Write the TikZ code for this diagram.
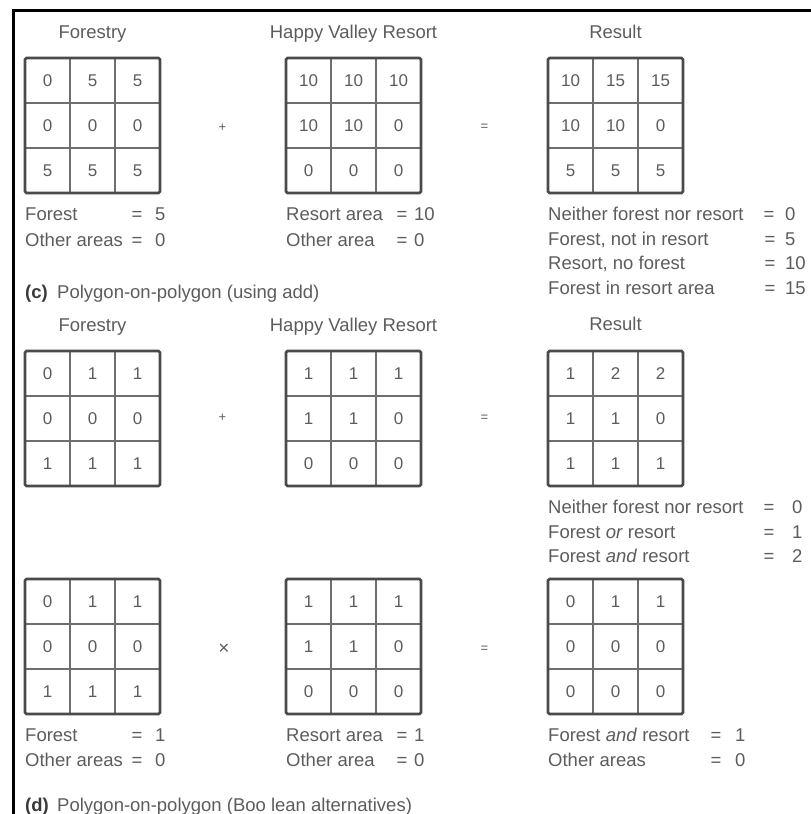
\documentclass[tikz,border=0pt]{standalone}
\usepackage{fontspec}
\setmainfont{Liberation Sans}
\definecolor{txt}{HTML}{5C5C5C}
\definecolor{capc}{HTML}{3A3A3A}
\definecolor{gridout}{HTML}{4A4A4A}
\definecolor{gridin}{HTML}{6E6E6E}
\tikzset{
  outer/.style={draw=gridout, line width=2.6pt, rounded corners=1.5pt},
  innerline/.style={draw=gridin, line width=1.4pt},
  cell/.style={anchor=center, inner sep=0pt, text=txt, text height=12.2pt, text depth=0pt, font=\fontsize{17}{19}\selectfont},
  lbl/.style={anchor=west, inner sep=0pt, text=txt, text height=13pt, text depth=0pt, font=\fontsize{18.5}{20}\selectfont},
  ttl/.style={anchor=center, inner sep=0pt, text=txt, text height=13pt, text depth=0pt, font=\fontsize{18.5}{20}\selectfont},
  eqs/.style={anchor=center, inner sep=0pt, text=txt, text height=13pt, text depth=0pt, font=\fontsize{18.5}{20}\selectfont},
  opsign/.style={anchor=center, inner sep=0pt, text=txt, font=\fontsize{13}{15}\selectfont},
  frameline/.style={draw=black, line width=2.4pt},
}
\newcommand\mygrid[4]{%
  \foreach \k in {1,2}{
    \draw[innerline] (#2+45*\k,#3) -- (#2+45*\k,#3+135);
    \draw[innerline] (#2,#3+45*\k) -- (#2+135,#3+45*\k);
  }
  \draw[outer] (#2,#3) rectangle (#2+135,#3+135);
  \foreach \v [count=\i from 0] in {#4}{
    \pgfmathtruncatemacro\rr{\i/3}
    \pgfmathtruncatemacro\cc{\i-3*\rr}
    \node[cell] (#1-\i) at (#2+22.5+45*\cc, #3+22.5+45*\rr) {\v};
  }
}
% name, text x, y, text, eq x, value x, value
\newcommand\eqrow[7]{%
  \node[lbl] (#1-t) at (#2,#3) {#4};
  \node[eqs] (#1-e) at (#5,#3) {=};
  \node[lbl] (#1-v) at (#6,#3) {#7};
}
\begin{document}
\begin{tikzpicture}[x=1pt,y=-1pt]
\useasboundingbox (0,0) rectangle (811,814);
% frame
\coordinate (fTL) at (13.5,10.5);
\coordinate (fTR) at (811,10.5);
\coordinate (fBL) at (13.5,814);
\draw[frameline] (fTR) -- (fTL) -- (fBL);

% ---------- panel (c) ----------
\node[ttl] (t1) at (92.5,32) {Forestry};
\node[ttl] (t2) at (353.5,32) {Happy Valley Resort};
\node[ttl] (t3) at (615.5,32) {Result};
\mygrid{ca}{25}{58}{0,5,5,0,0,0,5,5,5}
\mygrid{cb}{286}{58}{10,10,10,10,10,0,0,0,0}
\mygrid{cc}{548}{58}{10,15,15,10,10,0,5,5,5}
\node[opsign] (op1) at (222.5,127.5) {+};
\node[opsign] (op2) at (484.5,127) {=};

\eqrow{ca1}{25}{214}{Forest}{137}{155}{5}
\eqrow{ca2}{25}{240}{Other areas}{137}{155}{0}
\eqrow{cb1}{286}{214}{Resort area}{402}{414}{10}
\eqrow{cb2}{286}{240}{Other area}{402}{414}{0}
\eqrow{cc1}{548}{214}{Neither forest nor resort}{769}{785}{0}
\eqrow{cc2}{548}{239}{Forest, not in resort}{770}{785}{5}
\eqrow{cc3}{548}{263}{Resort, no forest}{770}{785}{10}
\eqrow{cc4}{548}{288}{Forest in resort area}{770}{785}{15}
\node[lbl, text=capc, font=\fontsize{18.5}{20}\selectfont\bfseries] (capc1) at (25,292) {(c)};
\node[lbl] (capc2) at (57,292) {Polygon-on-polygon (using add)};

% ---------- panel (d), upper ----------
\node[ttl] (t4) at (92.5,325) {Forestry};
\node[ttl] (t5) at (353.5,325) {Happy Valley Resort};
\node[ttl] (t6) at (615.5,324) {Result};
\mygrid{da}{25}{351}{0,1,1,0,0,0,1,1,1}
\mygrid{db}{286}{351}{1,1,1,1,1,0,0,0,0}
\mygrid{dc}{548}{351}{1,2,2,1,1,0,1,1,1}
\node[opsign] (op3) at (222.5,418) {+};
\node[opsign] (op4) at (484.5,418) {=};
\eqrow{dc1}{548}{507}{Neither forest nor resort}{769}{792}{0}
\eqrow{dc2}{548}{532}{Forest \textit{or} resort}{769}{792}{1}
\eqrow{dc3}{548}{556}{Forest \textit{and} resort}{769}{792}{2}

% ---------- panel (d), lower ----------
\mygrid{ea}{25}{579}{0,1,1,0,0,0,1,1,1}
\mygrid{eb}{286}{579}{1,1,1,1,1,0,0,0,0}
\mygrid{ec}{548}{579}{0,1,1,0,0,0,0,0,0}
\node[opsign, font=\fontsize{19}{21}\selectfont] (op5) at (224,649.5) {×};
\node[opsign] (op6) at (484.5,649.5) {=};
\eqrow{ea1}{25}{735}{Forest}{137}{155}{1}
\eqrow{ea2}{25}{760}{Other areas}{137}{155}{0}
\eqrow{eb1}{286}{735}{Resort area}{402}{414}{1}
\eqrow{eb2}{286}{760}{Other area}{402}{414}{0}
\eqrow{ec1}{548}{735}{Forest \textit{and} resort}{716}{735}{1}
\eqrow{ec2}{548}{760}{Other areas}{716}{735}{0}
\node[lbl, text=capc, font=\fontsize{18.5}{20}\selectfont\bfseries] (capd1) at (25,805) {(d)};
\node[lbl] (capd2) at (57,805) {Polygon-on-polygon (Boo lean alternatives)};
\end{tikzpicture}
\end{document}
